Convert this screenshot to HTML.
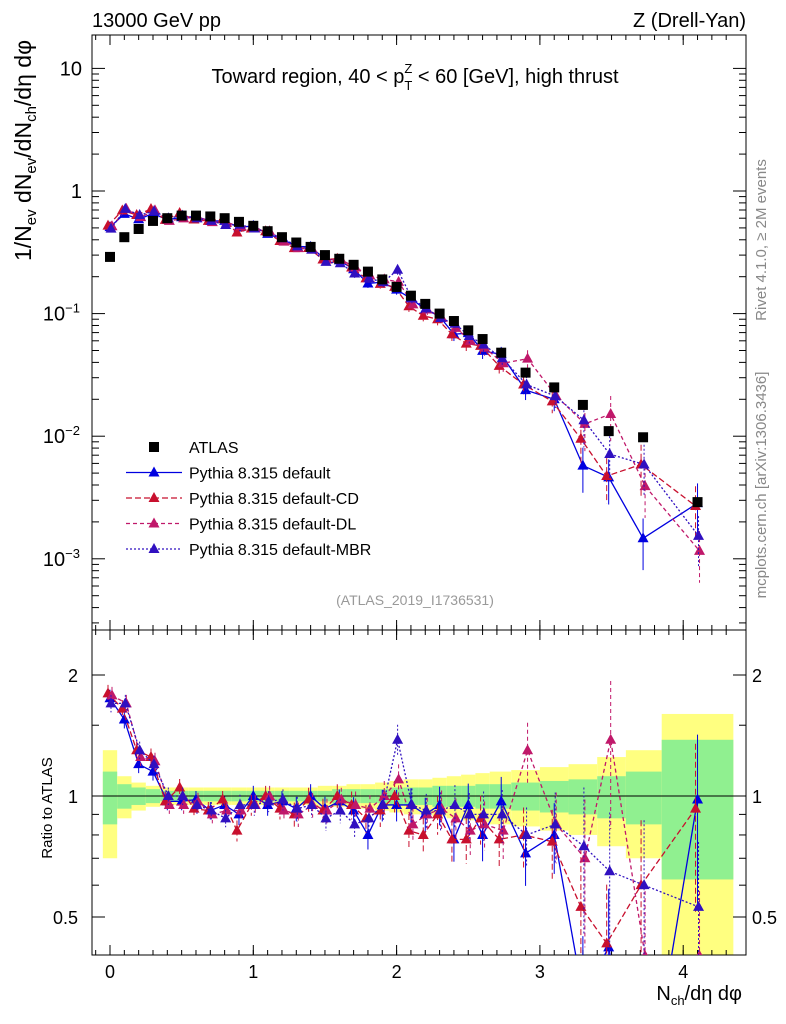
<!DOCTYPE html>
<html><head><meta charset="utf-8"><style>
body{margin:0;background:#fff;overflow:hidden}
svg{font-family:"Liberation Sans",sans-serif;display:block}
</style></head><body>
<svg id="c" width="786" height="1024" viewBox="0 0 786 1024" xmlns="http://www.w3.org/2000/svg">
<text x="92" y="27" font-size="20">13000 GeV pp</text>
<text x="746" y="27" font-size="20" text-anchor="end">Z (Drell-Yan)</text>
<text x="415" y="83" font-size="20" text-anchor="middle">Toward region, 40 &lt; p<tspan font-size="13" dy="7">T</tspan><tspan font-size="13" dx="-8" dy="-17">Z</tspan><tspan dy="10"> &lt; 60 [GeV], high thrust</tspan></text>
<text x="415" y="605" font-size="14" fill="#999" text-anchor="middle">(ATLAS_2019_I1736531)</text>
<text transform="translate(766,240) rotate(-90)" font-size="15" fill="#888" text-anchor="middle">Rivet 4.1.0, ≥ 2M events</text>
<text transform="translate(766,485) rotate(-90)" font-size="15" fill="#888" text-anchor="middle">mcplots.cern.ch [arXiv:1306.3436]</text>
<text transform="translate(31,40) rotate(-90)" font-size="23" text-anchor="end">1/N<tspan font-size="15" dy="5">ev</tspan><tspan dy="-5"> dN</tspan><tspan font-size="15" dy="5">ev</tspan><tspan dy="-5">/dN</tspan><tspan font-size="15" dy="5">ch</tspan><tspan dy="-5">/dη dφ</tspan></text>
<text transform="translate(52,808) rotate(-90)" font-size="15" text-anchor="middle">Ratio to ATLAS</text>
<text x="742" y="1000" font-size="20" text-anchor="end">N<tspan font-size="13" dy="5">ch</tspan><tspan dy="-5">/dη dφ</tspan></text>
<g id="g"></g>
</svg>
<script>
const xs=[0,0.1,0.2,0.3,0.4,0.5,0.6,0.7,0.8,0.9,1.0,1.1,1.2,1.3,1.4,1.5,1.6,1.7,1.8,1.9,2.0,2.1,2.2,2.3,2.4,2.5,2.6,2.73,2.9,3.1,3.3,3.48,3.72,4.1];
const atlas=[0.29,0.42,0.49,0.57,0.6,0.63,0.63,0.62,0.6,0.56,0.52,0.47,0.42,0.38,0.35,0.3,0.28,0.25,0.22,0.19,0.165,0.14,0.12,0.1,0.087,0.073,0.062,0.048,0.033,0.025,0.018,0.011,0.0098,0.0029];
const rDefault=[1.75,1.55,1.2,1.15,0.97,0.97,0.98,0.92,0.95,0.9,1.0,0.95,0.97,0.93,1.0,0.93,0.97,0.92,0.8,0.95,0.95,0.95,0.9,0.95,0.78,0.95,0.8,0.97,0.72,0.8,0.32,0.42,0.15,0.98];
const rCD=[1.8,1.65,1.3,1.25,0.97,1.05,0.93,0.92,0.98,0.82,0.95,1.0,0.93,0.9,0.98,0.92,1.0,0.95,0.88,0.92,1.0,0.82,0.8,0.9,0.78,0.78,0.88,0.78,0.8,0.77,0.53,0.43,0.6,0.93];
const rDL=[1.78,1.7,1.25,1.22,0.95,0.95,0.97,0.9,0.92,0.92,0.95,1.0,0.92,0.9,0.95,0.92,0.98,0.95,0.93,1.0,1.1,0.85,0.9,0.93,0.88,0.82,0.85,0.82,1.3,0.85,0.7,1.38,0.4,0.4];
const rMBR=[1.7,1.7,1.3,1.2,1.0,1.0,0.95,0.92,0.88,0.95,0.95,0.97,0.98,0.93,0.95,0.88,0.92,0.85,0.88,0.95,1.38,0.95,0.92,0.92,0.95,0.9,0.9,0.9,0.8,0.85,0.75,0.65,0.6,0.53];
const relErr=[0.05,0.05,0.05,0.05,0.05,0.05,0.05,0.05,0.05,0.06,0.06,0.06,0.06,0.07,0.07,0.07,0.07,0.08,0.08,0.09,0.09,0.1,0.1,0.11,0.12,0.13,0.14,0.15,0.17,0.2,0.4,0.4,0.45,0.45];
const bandG=[0.15,0.07,0.05,0.04,0.03,0.03,0.03,0.03,0.03,0.03,0.03,0.03,0.03,0.03,0.03,0.03,0.04,0.04,0.04,0.04,0.05,0.05,0.05,0.06,0.06,0.06,0.07,0.07,0.08,0.09,0.1,0.12,0.15,0.38];
const bandY=[0.3,0.12,0.08,0.06,0.05,0.05,0.05,0.05,0.05,0.05,0.05,0.05,0.05,0.05,0.05,0.06,0.06,0.07,0.07,0.08,0.09,0.1,0.1,0.11,0.12,0.13,0.14,0.15,0.16,0.18,0.2,0.25,0.3,0.6];
const edges=[-0.05,0.05,0.15,0.25,0.35,0.45,0.55,0.65,0.75,0.85,0.95,1.05,1.15,1.25,1.35,1.45,1.55,1.65,1.75,1.85,1.95,2.05,2.15,2.25,2.35,2.45,2.55,2.65,2.8,3.0,3.2,3.4,3.6,3.85,4.35];
const xTicks=[0,1,2,3,4];
const NS="http://www.w3.org/2000/svg";
const g=document.getElementById('g');
const X=v=>110+v*143.3;
const Y=v=>191-Math.log10(v)*122.6;
const R=v=>796-Math.log2(v)*121;
const B2=955;
function el(t,a,name,par){const e=document.createElementNS(NS,t);for(const k in a)e.setAttribute(k,a[k]);


(par||g).appendChild(e);return e;}
const clip=el('clipPath',{id:'rc'},'ratio-clip');el('rect',{x:92,y:630,width:654,height:B2-630},'ratio-clip-rect',clip);
const cm=el('clipPath',{id:'mc'},'main-clip');el('rect',{x:92,y:35,width:654,height:595},'main-clip-rect',cm);
const bg=el('g',{'clip-path':'url(#rc)'},'ratio-bands');
for(let i=0;i<xs.length;i++){const x0=X(edges[i]),x1=X(edges[i+1]);
el('rect',{x:x0,y:R(1+bandY[i]),width:x1-x0,height:R(Math.max(1-bandY[i],0.2))-R(1+bandY[i]),fill:'#ffff80'},'band-yellow',bg);
el('rect',{x:x0,y:R(1+bandG[i]),width:x1-x0,height:R(1-bandG[i])-R(1+bandG[i]),fill:'#90f090'},'band-green',bg);}
el('line',{x1:92,x2:746,y1:R(1),y2:R(1),stroke:'#000'},'ratio-unity-line');
el('rect',{x:92,y:35,width:654,height:595,fill:'none',stroke:'#000'},'main-frame');
el('rect',{x:92,y:630,width:654,height:B2-630,fill:'none',stroke:'#000'},'ratio-frame');
xTicks.forEach(t=>{const x=X(t);
[[35,1],[630,-1],[630,1],[B2,-1]].forEach(([y,d])=>el('line',{x1:x,x2:x,y1:y,y2:y+d*10,stroke:'#000'},'x-tick'));
const tx=el('text',{x:x,y:978,'font-size':18,'text-anchor':'middle'},'x-tick-label');tx.textContent=t;});
for(let v=-0.1;v<4.4;v+=0.1){const x=X(v);if(x<92||x>746)continue;
[[35,1],[630,-1],[630,1],[B2,-1]].forEach(([y,d])=>el('line',{x1:x,x2:x,y1:y,y2:y+d*5,stroke:'#000'},'x-minor-tick'));}
const yLab=['10<tspan font-size="13" dy="-8">−3</tspan>','10<tspan font-size="13" dy="-8">−2</tspan>','10<tspan font-size="13" dy="-8">−1</tspan>','1','10'];
[-3,-2,-1,0,1].forEach((p,i)=>{const y=Y(Math.pow(10,p));
el('line',{x1:92,x2:105,y1:y,y2:y,stroke:'#000'},'y-tick');el('line',{x1:746,x2:733,y1:y,y2:y,stroke:'#000'},'y-tick');
const t=el('text',{x:p<0?80:82,y:y+7,'font-size':20,'text-anchor':'end'},'y-tick-label');t.innerHTML=yLab[i];
for(let k=2;k<10;k++){const yy=Y(k*Math.pow(10,p));if(yy<35||yy>630)continue;
el('line',{x1:92,x2:99,y1:yy,y2:yy,stroke:'#000'},'y-minor-tick');el('line',{x1:746,x2:739,y1:yy,y2:yy,stroke:'#000'},'y-minor-tick');}});
for(let k=2;k<10;k++){const yy=Y(k*0.0001);if(yy>630)continue;el('line',{x1:92,x2:99,y1:yy,y2:yy,stroke:'#000'},'y-minor-tick');el('line',{x1:746,x2:739,y1:yy,y2:yy,stroke:'#000'},'y-minor-tick');}
[[2,'2'],[1,'1'],[0.5,'0.5']].forEach(([v,s])=>{const y=R(v);
el('line',{x1:92,x2:105,y1:y,y2:y,stroke:'#000'},'ratio-tick');el('line',{x1:746,x2:733,y1:y,y2:y,stroke:'#000'},'ratio-tick');
let t=el('text',{x:78,y:y+7,'font-size':18,'text-anchor':'end'},'ratio-tick-label');t.textContent=s;
t=el('text',{x:752,y:y+7,'font-size':18},'ratio-tick-label-right');t.textContent=s;});
[0.6,0.7,0.8,0.9,1.5].forEach(v=>{const y=R(v);el('line',{x1:92,x2:99,y1:y,y2:y,stroke:'#000'},'ratio-minor-tick');el('line',{x1:746,x2:739,y1:y,y2:y,stroke:'#000'},'ratio-minor-tick');});
const series=[['default',rDefault,'#0000e0','none',0],['default-CD',rCD,'#c8102e','6,3',-2],['default-DL',rDL,'#c0186a','4,3',2],['default-MBR',rMBR,'#3010c0','2,2',1]];
const mg=el('g',{'clip-path':'url(#mc)'},'main-series');
const rg=el('g',{'clip-path':'url(#rc)'},'ratio-series');
function tri(par,x,y,c,name){el('path',{d:`M${x},${y-6}L${x+5.5},${y+4}L${x-5.5},${y+4}Z`,fill:c},name,par);}
series.forEach(([nm,r,c,da,off])=>{
 const vals=r.map((v,i)=>v*atlas[i]);
 el('polyline',{points:xs.map((x,i)=>`${X(x)+off},${Y(vals[i])}`).join(' '),fill:'none',stroke:c,'stroke-width':1.3,'stroke-dasharray':da},'line-'+nm,mg);
 el('polyline',{points:xs.map((x,i)=>`${X(x)+off},${R(r[i])}`).join(' '),fill:'none',stroke:c,'stroke-width':1.3,'stroke-dasharray':da},'ratio-line-'+nm,rg);
 xs.forEach((x,i)=>{const px=X(x)+off,e=relErr[i];
  el('line',{x1:px,x2:px,y1:Y(vals[i]*(1+e)),y2:Y(vals[i]*Math.max(1-e,0.1)),stroke:c,'stroke-dasharray':da},'error-bar-'+nm,mg);
  el('line',{x1:px,x2:px,y1:R(r[i]*(1+e)),y2:R(r[i]*Math.max(1-e,0.1)),stroke:c,'stroke-dasharray':da},'ratio-error-'+nm,rg);
  tri(mg,px,Y(vals[i]),c,'point-'+nm);tri(rg,px,R(r[i]),c,'ratio-point-'+nm);});
});
xs.forEach((x,i)=>el('rect',{x:X(x)-5,y:Y(atlas[i])-5,width:10,height:10,fill:'#000'},'atlas-point',mg));
const leg=[['ATLAS',null],['Pythia 8.315 default',series[0]],['Pythia 8.315 default-CD',series[1]],['Pythia 8.315 default-DL',series[2]],['Pythia 8.315 default-MBR',series[3]]];
leg.forEach(([lab,s],i)=>{const y=447+i*25.5;
 if(!s)el('rect',{x:149,y:y-5,width:10,height:10,fill:'#000'},'legend-marker-atlas');
 else{el('line',{x1:126,x2:182,y1:y,y2:y,stroke:s[2],'stroke-width':1.3,'stroke-dasharray':s[3]},'legend-line');tri(g,154,y,s[2],'legend-marker');}
 const t=el('text',{x:189,y:y+6,'font-size':16},'legend-entry');t.textContent=lab;});
</script>
</body></html>
